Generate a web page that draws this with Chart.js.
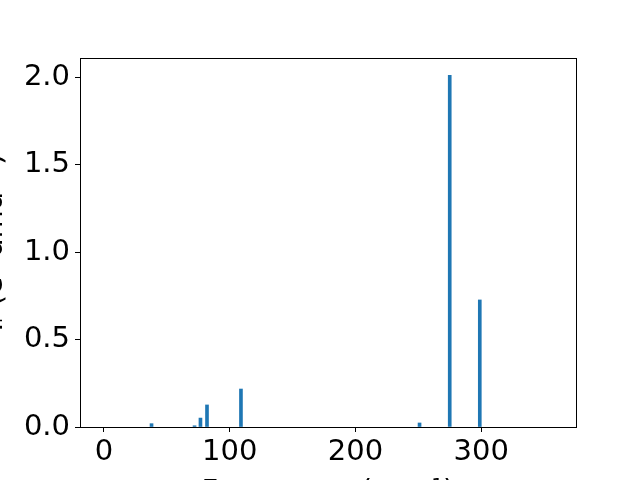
<!DOCTYPE html>
<html>
<head>
<meta charset="utf-8">
<script src="https://cdn.jsdelivr.net/npm/chart.js@4/dist/chart.umd.min.js"></script>
<style>
html,body{margin:0;padding:0;background:#fff;}
#wrap{width:640px;height:480px;}
</style>
</head>
<body>
<div id="wrap"><canvas id="c" width="640" height="480"></canvas></div>
<script>
const frequencies = [37.8, 72.0, 76.7, 81.9, 108.9, 250.9, 274.9, 298.8];
const intensities = [0.019, 0.007, 0.051, 0.126, 0.217, 0.023, 2.01, 0.726];
const xTicks = [0, 100, 200, 300];
const yTicks = [0.0, 0.5, 1.0, 1.5, 2.0];
const xLabel = 'Frequency (cm⁻¹)';
const yLabel = 'Iᵣ (e² amu⁻¹)';

const points = frequencies.map((f, i) => ({x: f, y: intensities[i]}));
const tickFont = {family: 'DejaVu Sans', size: 29};

const boxPlugin = {
  id: 'box',
  afterDraw(chart) {
    const a = chart.chartArea, ctx = chart.ctx;
    ctx.save();
    ctx.strokeStyle = '#000';
    ctx.lineWidth = 1;
    ctx.strokeRect(Math.round(a.left) + 0.5, Math.round(a.top) + 0.5, Math.round(a.right - a.left), Math.round(a.bottom - a.top));
    ctx.restore();
  }
};

new Chart(document.getElementById('c'), {
  type: 'bar',
  data: {
    datasets: [{
      data: points,
      backgroundColor: '#1f77b4',
      borderWidth: 0,
      barThickness: 3
    }]
  },
  options: {
    responsive: false,
    animation: false,
    layout: {padding: {left: 0, right: 64, top: 58, bottom: 0}},
    plugins: {legend: {display: false}, tooltip: {enabled: false}},
    scales: {
      x: {
        type: 'linear',
        min: -19.08,
        max: 375.3,
        offset: false,
        afterFit(s) { s.height = 53; },
        afterBuildTicks(s) { s.ticks = xTicks.map(v => ({value: v})); },
        ticks: {font: tickFont, color: '#000', padding: 3, maxRotation: 0, includeBounds: false},
        grid: {display: true, offset: false, drawOnChartArea: false, drawTicks: true, tickLength: 5, color: '#000'},
        border: {display: true, color: '#000'},
        title: {display: true, text: xLabel, font: tickFont, color: '#000', padding: {top: 0, bottom: -30}}
      },
      y: {
        min: 0,
        max: 2.1086,
        afterFit(s) { s.width = 80; },
        afterBuildTicks(s) { s.ticks = yTicks.map(v => ({value: v})); },
        ticks: {font: tickFont, color: '#000', padding: 5, callback: v => Number(v).toFixed(1)},
        grid: {display: true, offset: false, drawOnChartArea: false, drawTicks: true, tickLength: 5, color: '#000'},
        border: {display: true, color: '#000'},
        title: {display: true, text: yLabel, font: tickFont, color: '#000', padding: {top: -23, bottom: 0}}
      }
    }
  },
  plugins: [boxPlugin]
});
</script>
</body>
</html>
